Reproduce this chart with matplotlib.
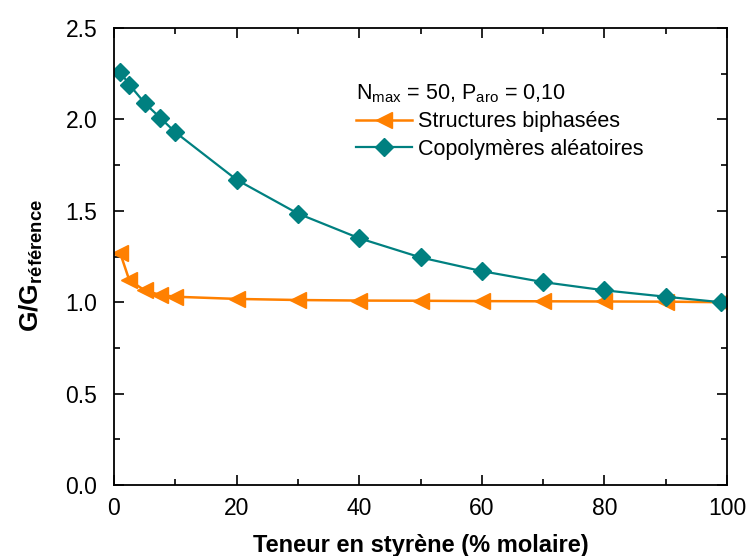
import numpy as np
import matplotlib
matplotlib.use('Agg')
import matplotlib.pyplot as plt
from matplotlib.ticker import MultipleLocator

plt.rcParams['font.family'] = ['Liberation Sans', 'DejaVu Sans']
plt.rcParams['mathtext.fontset'] = 'custom'
plt.rcParams['mathtext.rm'] = 'Liberation Sans'
plt.rcParams['mathtext.bf'] = 'Liberation Sans:bold'

# data
styrene = [1, 2.5, 5, 7.5, 10, 20, 30, 40, 50, 60, 70, 80, 90, 99]
biphase = [1.27, 1.12, 1.065, 1.04, 1.03, 1.018, 1.012, 1.009, 1.008, 1.006, 1.005, 1.004, 1.003, 1.0]
aleatoire = [2.26, 2.19, 2.09, 2.01, 1.93, 1.67, 1.485, 1.35, 1.245, 1.17, 1.11, 1.065, 1.03, 1.0]

fig = plt.figure(figsize=(7.48, 5.56), dpi=100)
ax = fig.add_axes([0.1524, 0.1277, 0.8196, 0.8219])

ax.plot(styrene, biphase, color='#FF8000', marker='<', markersize=12, lw=1.8,
        label='Structures biphasées')
ax.plot(styrene, aleatoire, color='#008080', marker='D', markersize=9, lw=1.6,
        label='Copolymères aléatoires')

ax.set_xlim(0, 100)
ax.set_ylim(0, 2.5)
ax.xaxis.set_major_locator(MultipleLocator(20))
ax.xaxis.set_minor_locator(MultipleLocator(10))
ax.yaxis.set_major_locator(MultipleLocator(0.5))
ax.yaxis.set_minor_locator(MultipleLocator(0.25))
ax.yaxis.set_major_formatter(matplotlib.ticker.FormatStrFormatter('%.1f'))
ax.tick_params(which='both', direction='in', top=True, right=True, labelsize=16.5, width=1.2)
ax.tick_params(which='major', length=7)
ax.tick_params(which='minor', length=4)
ax.tick_params(axis='x', pad=9)
ax.tick_params(axis='y', pad=12)
for s in ax.spines.values():
    s.set_linewidth(1.3)

ax.set_xlabel('Teneur en styrène (% molaire)', fontsize=17, fontweight='bold', labelpad=10)
ax.set_ylabel(r'$\mathbf{G/G}_{\mathbf{référence}}$', fontsize=19, labelpad=15)
ax.yaxis.label.set_y(0.48)

leg = ax.legend(loc='upper left', bbox_to_anchor=(0.38, 0.90), frameon=False,
                title=r'N$_{\mathrm{max}}$ = 50, P$_{\mathrm{aro}}$ = 0,10',
                alignment='left', fontsize=15.5, title_fontsize=15.5,
                handlelength=2.6, handletextpad=0.3, borderaxespad=0, labelspacing=0.3)

fig.savefig('out.png', dpi=100)
